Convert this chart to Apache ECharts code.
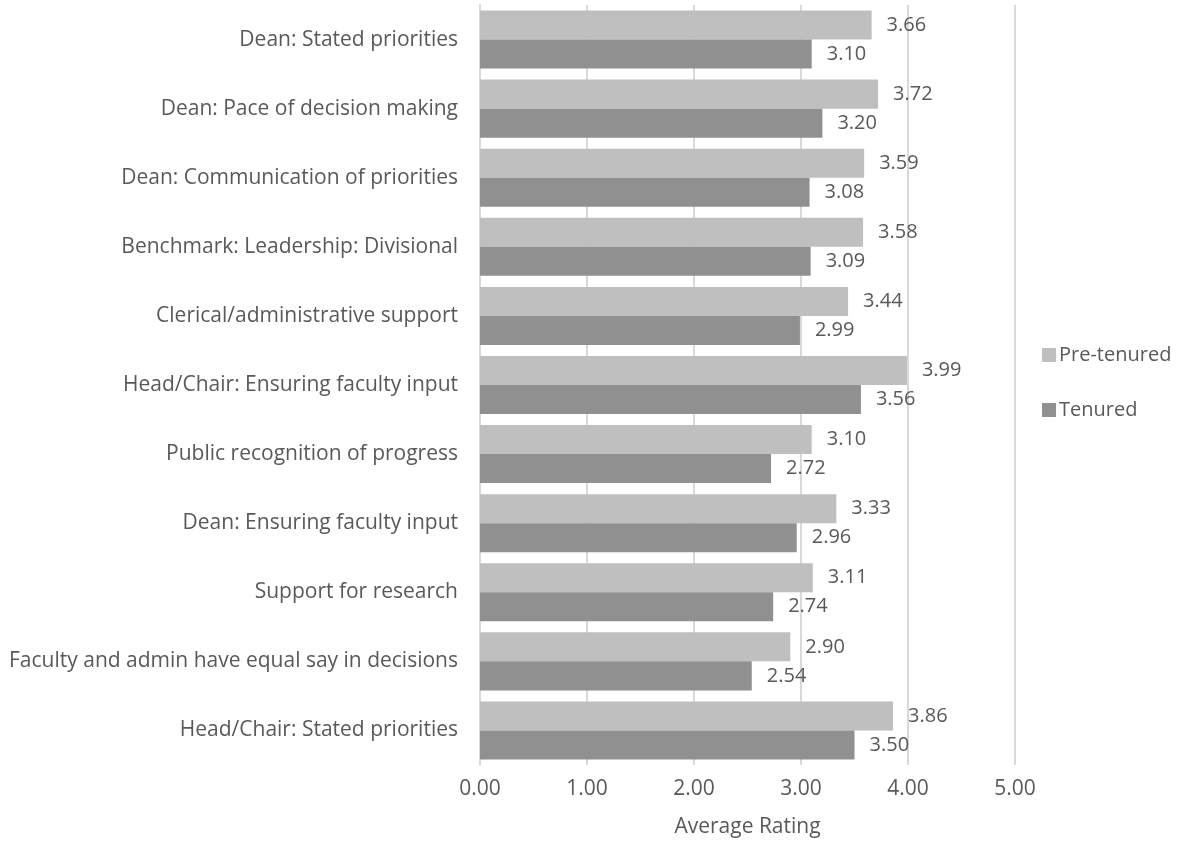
<!DOCTYPE html>
<html>
<head>
<meta charset="utf-8">
<script src="https://cdn.jsdelivr.net/npm/echarts@6/dist/echarts.min.js"></script>
<style>
  html, body { margin: 0; padding: 0; background: #fff; }
  #main { width: 1181px; height: 844px; }
</style>
</head>
<body>
<div id="main"></div>
<script>
// categories listed top to bottom as in the picture
var categories = [
  'Dean: Stated priorities',
  'Dean: Pace of decision making',
  'Dean: Communication of priorities',
  'Benchmark: Leadership: Divisional',
  'Clerical/administrative support',
  'Head/Chair: Ensuring faculty input',
  'Public recognition of progress',
  'Dean: Ensuring faculty input',
  'Support for research',
  'Faculty and admin have equal say in decisions',
  'Head/Chair: Stated priorities'
];
var preTenured = [3.66, 3.72, 3.59, 3.58, 3.44, 3.99, 3.10, 3.33, 3.11, 2.90, 3.86];
var tenured = [3.10, 3.20, 3.08, 3.09, 2.99, 3.56, 2.72, 2.96, 2.74, 2.54, 3.50];

var textColor = '#595959';
var font = '"Open Sans", sans-serif';

function valueLabel() {
  return {
    show: true,
    position: 'right',
    distance: 15,
    color: textColor,
    fontSize: 20,
    formatter: function (p) { return p.value.toFixed(2); }
  };
}

var myChart = echarts.init(document.getElementById('main'));
myChart.setOption({
  animation: false,
  textStyle: { fontFamily: font },
  grid: { left: 480, right: 166, top: 5, bottom: 79, containLabel: false },
  legend: {
    orient: 'vertical',
    left: 1037,
    top: 340,
    itemWidth: 14,
    itemHeight: 14,
    itemGap: 35,
    icon: 'rect',
    textStyle: { color: textColor, fontSize: 20, fontFamily: font, padding: [0, 0, 0, -2] },
    data: ['Pre-tenured', 'Tenured']
  },
  xAxis: {
    type: 'value',
    min: 0,
    max: 5,
    interval: 1,
    name: 'Average Rating',
    nameLocation: 'middle',
    nameGap: 52,
    nameTextStyle: { color: textColor, fontSize: 21, fontFamily: font },
    axisLine: { show: false },
    axisTick: { show: false },
    axisLabel: {
      color: textColor,
      fontSize: 21,
      margin: 14,
      formatter: function (v) { return v.toFixed(2); }
    },
    splitLine: { show: true, lineStyle: { color: '#d9d9d9', width: 2 } }
  },
  yAxis: {
    type: 'category',
    inverse: true,
    data: categories,
    axisLine: { show: true, lineStyle: { color: '#d9d9d9', width: 2 } },
    axisTick: { show: false },
    axisLabel: { color: textColor, fontSize: 21, margin: 22 }
  },
  series: [
    {
      name: 'Pre-tenured',
      type: 'bar',
      data: preTenured,
      barGap: '0%',
      barCategoryGap: '16%',
      itemStyle: { color: '#bfbfbf' },
      label: valueLabel()
    },
    {
      name: 'Tenured',
      type: 'bar',
      data: tenured,
      barGap: '0%',
      barCategoryGap: '16%',
      itemStyle: { color: '#909090' },
      label: valueLabel()
    }
  ]
});
</script>
</body>
</html>
